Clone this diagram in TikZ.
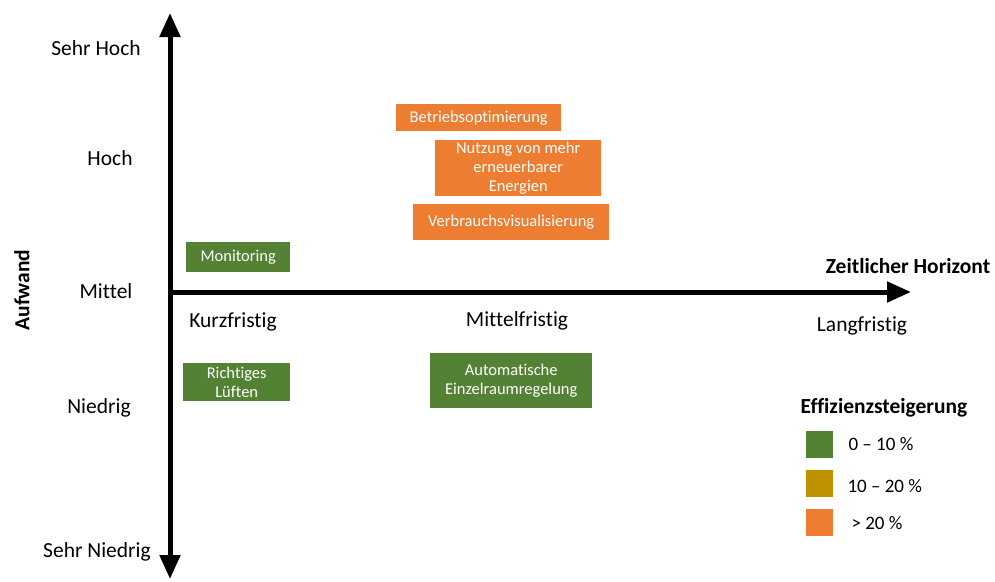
\documentclass[tikz,border=0pt]{standalone}
\usepackage{fontspec}
\setmainfont{Carlito}[Ligatures=NoCommon]
\usetikzlibrary{arrows.meta}
\definecolor{effgreen}{HTML}{548235}
\definecolor{effgold}{HTML}{BF9000}
\definecolor{efforange}{HTML}{ED7D31}
\begin{document}
\begin{tikzpicture}[x=1pt,y=-1pt,
  axis/.style={line width=5pt,-{Triangle[length=24pt,width=20pt]}},
  lvl/.style={font=\fontsize{21.5}{25}\selectfont,anchor=center},
  heading/.style={font=\fontsize{21.5}{25}\selectfont\bfseries},
  measure/.style={text=white,font=\fontsize{16.5}{19}\selectfont,align=center,inner sep=0pt,anchor=north west},
  legbox/.style={minimum width=27pt,minimum height=27pt,inner sep=0pt,anchor=north west},
  legtext/.style={font=\fontsize{19}{22}\selectfont,anchor=west}]
\useasboundingbox (0,0) rectangle (995,581);
% axes
\coordinate (origin) at (170,292);
\coordinate (ytop) at (170,13);
\coordinate (ybot) at (170,579);
\coordinate (xstart) at (168,292);
\coordinate (xend) at (911,292);
\draw[axis] (origin) -- (ytop);
\draw[axis] (origin) -- (ybot);
\draw[axis] (xstart) -- (xend);
% effort levels
\node[lvl] (sh) at (96,48) {Sehr Hoch};
\node[lvl] (h) at (110,158) {Hoch};
\node[lvl] (m) at (106,291) {Mittel};
\node[lvl] (n) at (99,408) {Niedrig};
\node[lvl] (sn) at (97,552) {Sehr Niedrig};
\node[heading,rotate=90] (aufwand) at (22,290) {Aufwand};
% time horizon
\node[lvl] (kurz) at (233,322) {Kurzfristig};
\node[lvl] (mittel) at (517,321) {Mittelfristig};
\node[lvl] (lang) at (862,326) {Langfristig};
\node[heading] (zh) at (908,266) {Zeitlicher Horizont};
% measures
\node[measure,fill=efforange,minimum width=165pt,minimum height=27pt] (betrieb) at (396,104) {Betriebsoptimierung};
\node[measure,fill=efforange,minimum width=166pt,minimum height=56pt] (nutzung) at (435,140) {Nutzung von mehr\\erneuerbarer\\Energien};
\node[measure,fill=efforange,minimum width=196pt,minimum height=36pt] (verbrauch) at (413,204) {Verbrauchsvisualisierung};
\node[measure,fill=effgreen,minimum width=104pt,minimum height=30pt] (monitoring) at (186,242) {Monitoring};
\node[measure,fill=effgreen,minimum width=107pt,minimum height=38pt] (lueften) at (183,363) {Richtiges\\Lüften};
\node[measure,fill=effgreen,minimum width=162pt,minimum height=55pt] (einzel) at (430,353) {Automatische\\Einzelraumregelung};
% legend
\node[heading] (legtitle) at (884,408) {Effizienzsteigerung};
\node[legbox,fill=effgreen] (lg1) at (806,431) {};
\node[legbox,fill=effgold] (lg2) at (806,470) {};
\node[legbox,fill=efforange] (lg3) at (806,509) {};
\node[legtext] (lt1) at (845,444) {0 – 10 \%};
\node[legtext] (lt2) at (844,486) {10 – 20 \%};
\node[legtext] (lt3) at (848,523) {> 20 \%};
\end{tikzpicture}
\end{document}
